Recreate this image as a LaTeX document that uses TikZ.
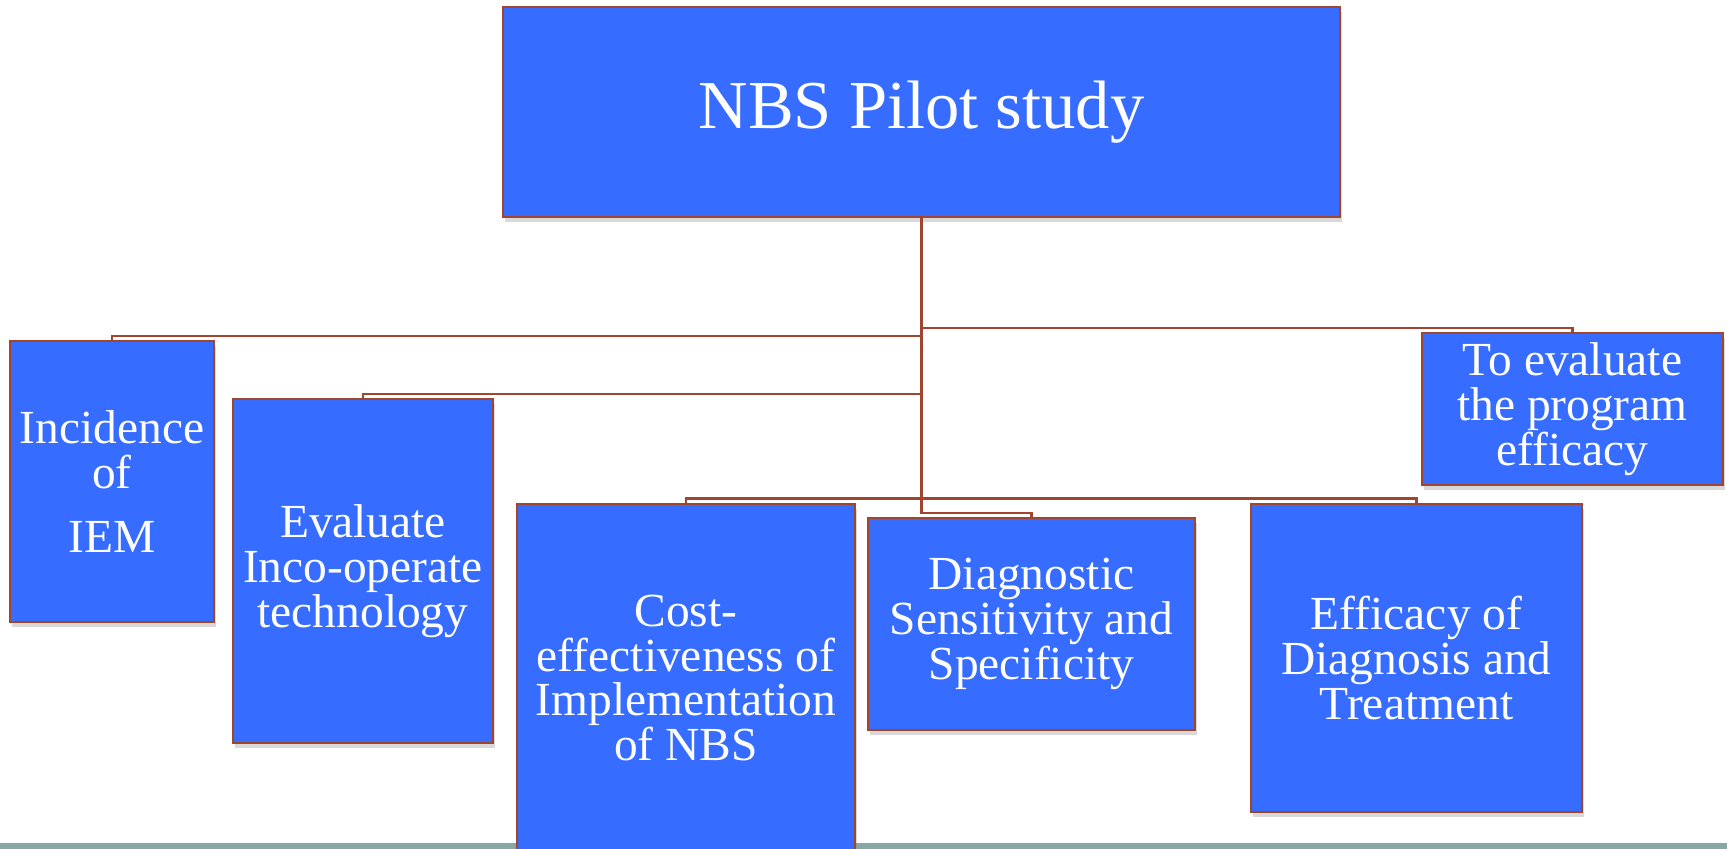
\documentclass[tikz,border=0pt]{standalone}
\usepackage{fontspec}
\setmainfont{Liberation Serif}
\usetikzlibrary{shadows}
\definecolor{nbsblue}{HTML}{366CFF}
\definecolor{nbsedge}{HTML}{A0452E}
\definecolor{nbsstrip}{HTML}{86A9A8}

\begin{document}
\begin{tikzpicture}[
            box/.style={rectangle, draw=nbsedge, line width=1.2pt, fill=nbsblue, text=white, align=center, inner sep=0pt,
                font=\fontsize{27}{25.5}\selectfont,
                drop shadow={shadow xshift=0.03cm, shadow yshift=-0.1cm, opacity=0.3}},
            link/.style={draw=nbsedge, line width=1.2pt}
        ]
            \clip (0,0) rectangle (34.54,-16.98);

            % Bottom strip
            \fill[nbsstrip] (0,-16.86) rectangle (34.54,-16.98);

            % Root
            \node[box, minimum width=16.74cm, minimum height=4.20cm, font=\fontsize{39}{44}\selectfont] (pilot) at (18.43,-2.24) {NBS Pilot study};

            % Aims
            \node[box, minimum width=4.08cm, minimum height=5.62cm] (incid) at (2.24,-9.63) {Incidence\\of\\[0.38cm]IEM};
            \node[box, minimum width=5.20cm, minimum height=6.88cm] (evalt) at (7.26,-11.42) {Evaluate\\Inco-operate\\technology};
            \node[box, minimum width=6.76cm, minimum height=6.96cm] (cost) at (13.72,-13.56) {Cost-\\effectiveness of\\Implementation\\of NBS};
            \node[box, minimum width=6.54cm, minimum height=4.24cm] (diag) at (20.63,-12.48) {Diagnostic\\Sensitivity and\\Specificity};
            \node[box, minimum width=6.62cm, minimum height=6.16cm] (effic) at (28.33,-13.16) {Efficacy of\\Diagnosis and\\Treatment};
            \node[box, minimum width=6.02cm, minimum height=3.04cm] (toeval) at (31.45,-8.18) {To evaluate\\the program\\efficacy};

            % Links
            \draw[link] (pilot.south) -- ++(0,-2.36) -| (incid.north);
            \draw[link] (pilot.south) -- ++(0,-2.20) -| (toeval.north);
            \draw[link] (pilot.south) -- ++(0,-3.52) -| (evalt.north);
            \draw[link] (pilot.south) -- ++(0,-5.61) -| (cost.north);
            \draw[link] (pilot.south) -- ++(0,-5.61) -| (effic.north);
            \draw[link] (pilot.south) -- ++(0,-5.90) -| (diag.north);
        \end{tikzpicture}
\end{document}
